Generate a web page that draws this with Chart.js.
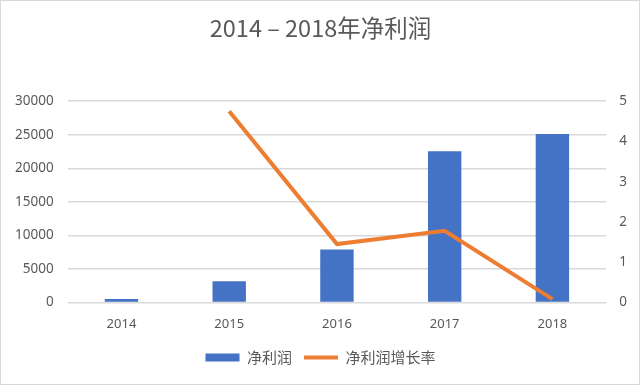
<!DOCTYPE html>
<html>
<head>
<meta charset="utf-8">
<script src="https://cdn.jsdelivr.net/npm/chart.js@4.4.1/dist/chart.umd.min.js"></script>
<style>
html,body{margin:0;padding:0;background:#fff;}
#wrap{width:640px;height:385px;}
</style>
</head>
<body>
<div id="wrap"><canvas id="c" width="640" height="385"></canvas></div>
<script>
const categories = ['2014', '2015', '2016', '2017', '2018'];
const netProfit = [500, 3150, 7900, 22550, 25100];
const growthRate = [null, 4.75, 1.45, 1.78, 0.08];
const leftTicks = [0, 5000, 10000, 15000, 20000, 25000, 30000];
const rightTicks = [0, 1, 2, 3, 4, 5];
const titleText = '2014 \u2013 2018年净利润';
const seriesNames = ['净利润', '净利润增长率'];

const CJK = '"Noto Sans CJK SC", "Noto Sans", sans-serif';
const TXT = '"Noto Sans", "Liberation Sans", sans-serif';

const frame = {
  id: 'frame',
  beforeDraw(chart) {
    const ctx = chart.ctx;
    ctx.save();
    ctx.fillStyle = '#fff';
    ctx.fillRect(0, 0, chart.width, chart.height);
    ctx.strokeStyle = '#d9d9d9';
    ctx.lineWidth = 1;
    ctx.strokeRect(0.5, 0.5, chart.width - 1, chart.height - 1);
    ctx.restore();
  }
};

new Chart(document.getElementById('c'), {
  data: {
    labels: categories,
    datasets: [
      {
        type: 'line',
        label: seriesNames[1],
        data: growthRate,
        yAxisID: 'y1',
        borderColor: '#ED7D31',
        backgroundColor: '#ED7D31',
        borderWidth: 4,
        pointRadius: 0,
        pointStyle: 'line',
        tension: 0,
        order: 0
      },
      {
        type: 'bar',
        label: seriesNames[0],
        data: netProfit,
        yAxisID: 'y',
        backgroundColor: '#4472C4',
        borderWidth: 0,
        pointStyle: 'rect',
        categoryPercentage: 1,
        barPercentage: 0.31,
        order: 1
      }
    ]
  },
  options: {
    responsive: false,
    animation: false,
    layout: { padding: { left: 1, right: 0, top: 14, bottom: 10 } },
    plugins: {
      title: {
        display: true,
        text: titleText,
        color: '#595959',
        font: { family: CJK, size: 23.5, weight: 'normal' },
        padding: { top: 0, bottom: 59 }
      },
      legend: {
        position: 'bottom',
        reverse: true,
        labels: {
          usePointStyle: true,
          pointStyleWidth: 34,
          boxHeight: 8,
          color: '#595959',
          font: { family: CJK, size: 15 },
          padding: 12
        }
      },
      tooltip: { enabled: false }
    },
    scales: {
      x: {
        grid: { display: false },
        border: { display: false },
        ticks: { color: '#595959', font: { family: TXT, size: 13 }, padding: 6 }
      },
      y: {
        position: 'left',
        min: 0, max: 30000,
        afterBuildTicks(axis) { axis.ticks = leftTicks.map(v => ({ value: v })); },
        grid: { color: '#d9d9d9', lineWidth: 1.5, drawTicks: false },
        border: { display: false },
        ticks: { color: '#595959', font: { family: TXT, size: 13.5 }, padding: 14, callback: v => String(v) }
      },
      y1: {
        position: 'right',
        min: 0, max: 5,
        afterBuildTicks(axis) { axis.ticks = rightTicks.map(v => ({ value: v })); },
        grid: { display: false, drawTicks: false },
        border: { display: false },
        ticks: { color: '#595959', font: { family: TXT, size: 13.5 }, padding: 13, callback: v => String(v) }
      }
    }
  },
  plugins: [frame]
});
</script>
</body>
</html>
